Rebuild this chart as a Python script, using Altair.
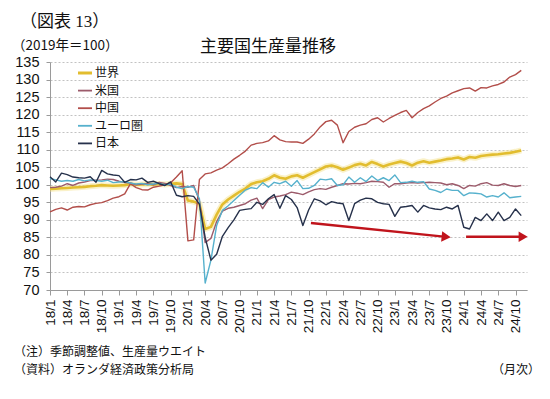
import altair as alt
import pandas as pd
import math

FONT = "Noto Sans CJK JP"
NUMFONT = "Liberation Sans"
TXT = "#111111"
RED = "#c0141c"

# month labels 18/1 .. 24/12 (data runs through 24/11)
month_labels = [f"{y}/{m}" for y in range(18, 25) for m in range(1, 13)]

series_names = ["世界", "米国", "中国", "ユーロ圏", "日本"]
series_colors = ["#e2bd2f", "#9c5b6b", "#b24e4a", "#56b1cd", "#26314b"]

world = [98.8, 98.9, 99.0, 99.1, 99.2, 99.3, 99.4, 99.6, 99.7, 99.9, 99.8, 99.7,
         99.8, 99.9, 100.2, 100.0, 100.1, 100.2, 100.0, 100.2, 100.1, 100.3, 100.4, 100.2,
         95.5, 95.2, 94.6, 87.4, 88.0, 91.5, 94.4, 95.8, 96.9, 98.0, 98.9, 100.2,
         100.7, 101.0, 101.7, 102.7, 102.0, 101.7, 102.4, 102.7, 102.0, 102.8, 103.6, 104.4,
         105.2, 105.5, 105.0, 104.3, 104.9, 105.6, 106.0, 105.5, 106.5, 105.9, 105.2, 105.8,
         106.2, 106.6, 106.2, 105.5, 106.3, 106.7, 106.3, 106.6, 106.9, 107.3, 107.5, 107.8,
         107.2, 107.9, 107.7, 108.2, 108.4, 108.6, 108.7, 108.9, 109.1, 109.4, 109.8]

usa = [99.2, 99.3, 99.6, 100.3, 99.8, 100.5, 100.8, 101.2, 101.3, 101.4, 101.6, 101.5,
       101.0, 100.6, 100.5, 100.0, 100.2, 100.3, 100.0, 100.7, 100.4, 99.8, 99.2, 99.5,
       99.3, 99.8, 95.5, 83.5, 84.7, 89.5, 92.5, 93.3, 93.6, 94.1, 94.6, 95.6,
       96.2, 93.2, 95.8, 96.5, 96.8, 97.2, 97.9, 97.6, 97.2, 98.0, 98.6, 98.9,
       98.7, 99.3, 99.8, 100.3, 100.2, 100.4, 100.3, 100.6, 101.0, 100.9, 100.7, 99.3,
       100.3, 100.3, 100.5, 100.6, 100.5, 100.6, 100.7, 100.6, 100.5, 100.0, 100.3, 99.8,
       98.9, 99.8, 99.6, 100.3, 100.6, 99.9, 99.8, 100.3, 99.8, 99.5, 99.8]

china = [92.3, 93.0, 93.4, 92.8, 93.6, 93.8, 93.7, 94.3, 94.7, 94.9, 95.5, 96.2,
         96.6, 97.4, 100.3, 99.2, 98.6, 98.5, 99.3, 99.6, 100.0, 100.6, 102.2, 104.0,
         84.0, 84.3, 101.5, 103.1, 103.4, 104.2, 104.8, 106.0, 107.3, 108.4, 109.6, 111.3,
         111.8, 112.0, 112.5, 114.0, 112.8, 112.3, 112.2, 112.2, 111.8, 113.0, 114.5, 116.5,
         118.0, 118.4, 117.0, 112.0, 115.2, 116.4, 117.0, 117.4, 118.6, 119.1, 117.9, 118.9,
         119.8, 120.6, 121.2, 119.1, 120.6, 121.7, 122.5, 123.6, 124.6, 125.3, 126.2, 126.8,
         127.4, 127.6, 126.7, 127.7, 127.6, 128.2, 128.6, 129.3, 130.7, 131.4, 132.6]

euro = [101.8, 101.4, 101.0, 101.2, 101.0, 101.5, 101.1, 101.4, 101.2, 101.0, 101.3, 100.6,
        100.8, 100.9, 100.5, 100.2, 100.4, 100.0, 100.2, 100.4, 100.0, 100.2, 99.3, 98.9,
        99.5, 99.3, 96.0, 72.0, 78.5, 88.4, 92.7, 94.0, 95.5, 97.0, 98.5, 99.2,
        98.9, 100.6, 99.3, 100.7, 100.3, 101.0, 99.6, 101.2, 98.9, 99.0, 99.8, 101.6,
        101.4, 101.7, 99.8, 100.0, 102.2, 100.7, 102.0, 100.9, 102.5, 101.2, 102.0, 101.2,
        102.8, 100.6, 100.7, 101.0, 100.7, 100.9, 98.8, 98.4, 97.8, 98.8, 98.4, 98.4,
        96.9, 97.7, 97.6, 97.4, 96.5, 96.9, 96.5, 97.7, 96.3, 96.5, 96.7]

japan = [102.3, 100.8, 103.3, 102.9, 102.2, 102.0, 101.9, 102.3, 100.7, 104.1, 103.1, 102.8,
         102.6, 100.7, 101.5, 101.4, 101.9, 100.7, 101.0, 100.3, 99.8, 100.8, 97.0, 96.6,
         96.9, 96.7, 94.5, 85.0, 78.5, 80.2, 85.3, 87.8, 90.0, 92.7, 93.0, 93.2,
         95.0, 94.4, 96.0, 97.2, 93.3, 96.9, 95.8, 93.5, 88.4, 92.8, 96.0, 95.4,
         94.3, 95.2, 94.8, 94.6, 89.8, 94.6, 95.6, 96.2, 96.0, 95.0, 94.6, 94.4,
         91.0, 93.6, 93.8, 94.1, 92.2, 94.1, 93.4, 93.1, 92.9, 93.6, 93.1, 94.1,
         87.9, 87.4, 90.7, 89.8, 91.7, 89.8, 92.2, 89.8, 90.7, 93.1, 91.2]

# arrow annotations (start/end in data space)
arrow_x1 = [45.4, 72.4]
arrow_y1 = [89.1, 85.2]
arrow_x2 = [69.8, 83.2]
arrow_y2 = [85.0, 85.2]

series_values = dict(zip(series_names, [world, usa, china, euro, japan]))
rows = []
for name in series_names:
    for i, v in enumerate(series_values[name]):
        rows.append({"series": name, "idx": i, "month": month_labels[i], "value": v})
df = pd.DataFrame(rows)

label_js = "[" + ",".join(f"'{m}'" for m in month_labels) + "]"

W, H = 477, 228
xscale = alt.Scale(domain=[0, 83], nice=False, zero=False)
yscale = alt.Scale(domain=[70, 135], nice=False, zero=False)
xaxis = alt.Axis(values=list(range(0, 82, 3)), labelExpr=f"{label_js}[datum.value]",
                 labelAngle=-90, labelFontSize=13.5, labelFont=NUMFONT, labelColor=TXT,
                 labelPadding=4, tickSize=5, tickColor="#9a9a9a", domainColor="#9a9a9a",
                 grid=False, title=None, labelOverlap=False, labelFlush=False)
yaxis = alt.Axis(values=list(range(70, 136, 5)), labelFontSize=14.5, labelFont=NUMFONT,
                 labelColor=TXT, tickSize=4, tickColor="#9a9a9a", domainColor="#9a9a9a",
                 grid=True, gridColor="#c2c2c2", gridDash=[2, 2], title=None,
                 labelPadding=7)
X = alt.X("idx:Q", scale=xscale, axis=xaxis)
Y = alt.Y("value:Q", scale=yscale, axis=yaxis)

layers = []
# world with soft halo
wdf = df[df.series == "世界"]
layers.append(alt.Chart(wdf).mark_line(color="#f3df86", strokeWidth=6, opacity=0.45,
                                       strokeJoin="round").encode(x=X, y=Y))
layers.append(alt.Chart(wdf).mark_line(color=series_colors[0], strokeWidth=2.6,
                                       strokeJoin="round").encode(x=X, y=Y))
for name, color in zip(series_names[1:], series_colors[1:]):
    layers.append(alt.Chart(df[df.series == name]).mark_line(
        color=color, strokeWidth=1.4, strokeJoin="round").encode(x=X, y=Y))

# arrows
px_x = W / 83.0
px_y = H / 65.0
head_len_px = 5.0
arrow_rows = []
for xa, ya, xb, yb in zip(arrow_x1, arrow_y1, arrow_x2, arrow_y2):
    dxp = (xb - xa) * px_x
    dyp = -(yb - ya) * px_y
    ang = math.degrees(math.atan2(dyp, dxp))
    L = math.hypot(dxp, dyp)
    cx = xb - (dxp / L) * head_len_px / px_x
    cy = yb + (dyp / L) * head_len_px / px_y
    arrow_rows.append({"idx": xa, "value": ya, "idx2": cx, "value2": cy, "ang": ang})
adf = pd.DataFrame(arrow_rows)
layers.append(alt.Chart(adf).mark_rule(color=RED, strokeWidth=2.4).encode(
    x=X, y=Y, x2="idx2:Q", y2="value2:Q"))
layers.append(alt.Chart(adf).mark_point(shape="triangle-right", filled=True, color=RED,
                                        size=110, opacity=1).encode(
    x=alt.X("idx2:Q", scale=xscale, axis=xaxis), y=alt.Y("value2:Q", scale=yscale, axis=yaxis),
    angle=alt.Angle("ang:Q", scale=None)))

one = pd.DataFrame({"a": [0]})

# legend
for k, (name, color) in enumerate(zip(series_names, series_colors)):
    yy = 11.0 + 17.6 * k
    layers.append(alt.Chart(one).mark_rule(color=color, strokeWidth=3 if k == 0 else 1.8).encode(
        x=alt.value(28), x2=alt.value(42), y=alt.value(yy)))
    layers.append(alt.Chart(one).mark_text(text=name, align="left", baseline="middle", font=FONT,
                                           fontSize=12, color=TXT).encode(
        x=alt.value(45), y=alt.value(yy)))


def text_layer(t, x, y, size, align="left", weight="normal", font=FONT):
    return alt.Chart(one).mark_text(text=t, align=align, baseline="middle", font=font,
                                    fontSize=size, fontWeight=weight, color=TXT).encode(
        x=alt.value(x), y=alt.value(y))


layers.append(text_layer("（図表 13）", -30, -40, 17, font="Liberation Serif, Noto Sans CJK JP"))
layers.append(text_layer("（2019年＝100）", -38, -16, 13.5))
layers.append(text_layer("主要国生産量推移", 218, -15, 17, align="center"))
layers.append(text_layer("（注）季節調整値、生産量ウエイト", -36, 290, 12))
layers.append(text_layer("（資料）オランダ経済政策分析局", -36, 308, 12))
layers.append(text_layer("（月次）", 490, 308, 12, align="right"))

chart = alt.layer(*layers).properties(
    width=W, height=H,
    padding={"left": 42, "top": 54, "right": 15, "bottom": 101},
    autosize=alt.AutoSizeParams(type="none"),
    background="white",
).configure_view(stroke=None)

chart.save("out.html", embed_options={"renderer": "svg", "actions": False})
